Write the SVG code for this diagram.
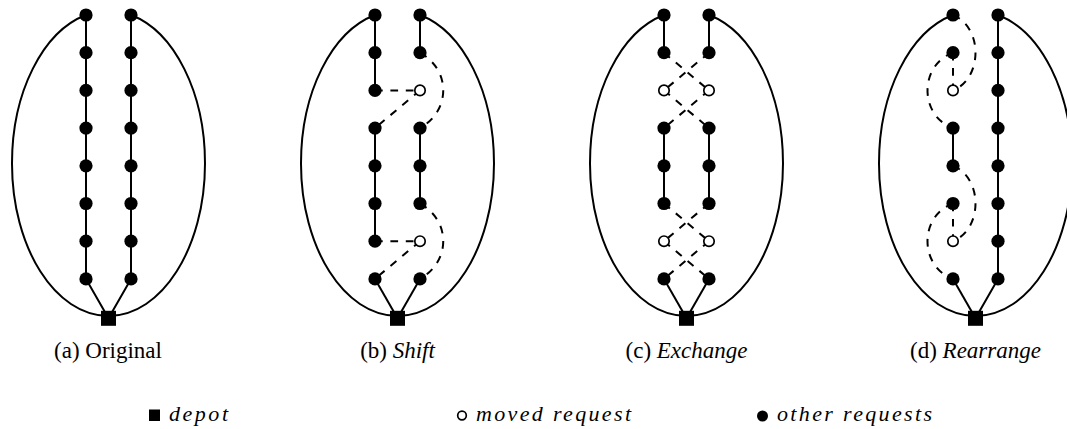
<svg xmlns="http://www.w3.org/2000/svg" width="1067" height="429" viewBox="0 0 1067 429">
  <style>
    .route { fill: none; stroke: #000; stroke-width: 2; }
    .move  { fill: none; stroke: #000; stroke-width: 2; stroke-dasharray: 7.7 7.7; }
    .req   { fill: #000; }
    .moved { fill: #fff; stroke: #000; stroke-width: 1.7; }
    .depot { fill: #000; }
    .cap   { font-family: "Liberation Serif", "Times New Roman", serif; font-size: 23px; fill: #000; }
    .it    { font-style: italic; }
    .leg   { font-family: "Liberation Serif", "Times New Roman", serif; font-size: 22px; font-style: italic; fill: #000; }
  </style>
  <defs>
    <!-- outer arcs from the first request of each route back to the depot -->
    <path id="arc-left"  d="M86,15 C42.6,31.5 12,92.8 12,163.4 C12,247.7 55.2,316 108.5,316"/>
    <path id="arc-right" d="M131,15 C174.4,31.5 205,92.8 205,163.4 C205,247.7 161.8,316 108.5,316"/>
  </defs>

  <rect width="1067" height="429" fill="#fff"/>

  <g id="connectors">
    <!-- (a) original routes -->
    <g id="edges-a">
      <use href="#arc-left" class="route"/>
      <use href="#arc-right" class="route"/>
      <path class="route" d="M86,15 V278.9 L108.5,318.3"/>
      <path class="route" d="M131,15 V278.9 L108.5,318.3"/>
    </g>
    <!-- (b) shift -->
    <g id="edges-b" transform="translate(289,0)">
      <use href="#arc-left" class="route"/>
      <use href="#arc-right" class="route"/>
      <path class="route" d="M86,15 V90.4"/>
      <path class="route" d="M86,128.1 V241.2"/>
      <path class="route" d="M86,278.9 L108.5,318.3"/>
      <path class="route" d="M131,15 V52.7"/>
      <path class="route" d="M131,128.1 V203.5"/>
      <path class="route" d="M131,278.9 L108.5,318.3"/>
      <path class="move" d="M86,90.4 H131"/>
      <path class="move" d="M131,90.4 L86,128.1"/>
      <path class="move" d="M131,52.7 C162,70 162,110.5 131,128.1"/>
      <path class="move" d="M86,241.2 H131"/>
      <path class="move" d="M131,241.2 L86,278.9"/>
      <path class="move" d="M131,203.5 C162,220.8 162,261.3 131,278.9"/>
    </g>
    <!-- (c) exchange -->
    <g id="edges-c" transform="translate(578,0)">
      <use href="#arc-left" class="route"/>
      <use href="#arc-right" class="route"/>
      <path class="route" d="M86,15 V52.7"/>
      <path class="route" d="M131,15 V52.7"/>
      <path class="route" d="M86,128.1 V203.5"/>
      <path class="route" d="M131,128.1 V203.5"/>
      <path class="route" d="M86,278.9 L108.5,318.3"/>
      <path class="route" d="M131,278.9 L108.5,318.3"/>
      <path class="move" d="M86,52.7 L131,90.4"/>
      <path class="move" d="M131,52.7 L86,90.4"/>
      <path class="move" d="M86,90.4 L131,128.1"/>
      <path class="move" d="M131,90.4 L86,128.1"/>
      <path class="move" d="M86,203.5 L131,241.2"/>
      <path class="move" d="M131,203.5 L86,241.2"/>
      <path class="move" d="M86,241.2 L131,278.9"/>
      <path class="move" d="M131,241.2 L86,278.9"/>
    </g>
    <!-- (d) rearrange -->
    <g id="edges-d" transform="translate(867,0)">
      <use href="#arc-left" class="route"/>
      <use href="#arc-right" class="route"/>
      <path class="route" d="M131,15 V278.9 L108.5,318.3"/>
      <path class="route" d="M86,128.1 V165.8"/>
      <path class="route" d="M86,278.9 L108.5,318.3"/>
      <path class="move" d="M86,15 C116,27 116,78.4 86,90.4"/>
      <path class="move" d="M86,52.7 V90.4"/>
      <path class="move" d="M86,52.7 C52,65 52,115.8 86,128.1"/>
      <path class="move" d="M86,165.8 C116,177.8 116,229.2 86,241.2"/>
      <path class="move" d="M86,203.5 V241.2"/>
      <path class="move" d="M86,203.5 C52,215.8 52,266.6 86,278.9"/>
    </g>
  </g>

  <!-- (a) nodes -->
  <g id="nodes-a">
    <g id="a-depot"><rect class="depot" x="101" y="310.8" width="15" height="15"/></g>
    <g id="a-L0"><circle class="req" cx="86" cy="15" r="6.6"/></g>
    <g id="a-L1"><circle class="req" cx="86" cy="52.7" r="6.6"/></g>
    <g id="a-L2"><circle class="req" cx="86" cy="90.4" r="6.6"/></g>
    <g id="a-L3"><circle class="req" cx="86" cy="128.1" r="6.6"/></g>
    <g id="a-L4"><circle class="req" cx="86" cy="165.8" r="6.6"/></g>
    <g id="a-L5"><circle class="req" cx="86" cy="203.5" r="6.6"/></g>
    <g id="a-L6"><circle class="req" cx="86" cy="241.2" r="6.6"/></g>
    <g id="a-L7"><circle class="req" cx="86" cy="278.9" r="6.6"/></g>
    <g id="a-R0"><circle class="req" cx="131" cy="15" r="6.6"/></g>
    <g id="a-R1"><circle class="req" cx="131" cy="52.7" r="6.6"/></g>
    <g id="a-R2"><circle class="req" cx="131" cy="90.4" r="6.6"/></g>
    <g id="a-R3"><circle class="req" cx="131" cy="128.1" r="6.6"/></g>
    <g id="a-R4"><circle class="req" cx="131" cy="165.8" r="6.6"/></g>
    <g id="a-R5"><circle class="req" cx="131" cy="203.5" r="6.6"/></g>
    <g id="a-R6"><circle class="req" cx="131" cy="241.2" r="6.6"/></g>
    <g id="a-R7"><circle class="req" cx="131" cy="278.9" r="6.6"/></g>
  </g>

  <!-- (b) nodes -->
  <g id="nodes-b" transform="translate(289,0)">
    <g id="b-depot"><rect class="depot" x="101" y="310.8" width="15" height="15"/></g>
    <g id="b-L0"><circle class="req" cx="86" cy="15" r="6.6"/></g>
    <g id="b-L1"><circle class="req" cx="86" cy="52.7" r="6.6"/></g>
    <g id="b-L2"><circle class="req" cx="86" cy="90.4" r="6.6"/></g>
    <g id="b-L3"><circle class="req" cx="86" cy="128.1" r="6.6"/></g>
    <g id="b-L4"><circle class="req" cx="86" cy="165.8" r="6.6"/></g>
    <g id="b-L5"><circle class="req" cx="86" cy="203.5" r="6.6"/></g>
    <g id="b-L6"><circle class="req" cx="86" cy="241.2" r="6.6"/></g>
    <g id="b-L7"><circle class="req" cx="86" cy="278.9" r="6.6"/></g>
    <g id="b-R0"><circle class="req" cx="131" cy="15" r="6.6"/></g>
    <g id="b-R1"><circle class="req" cx="131" cy="52.7" r="6.6"/></g>
    <g id="b-R2"><circle class="moved" cx="131" cy="90.4" r="5.2"/></g>
    <g id="b-R3"><circle class="req" cx="131" cy="128.1" r="6.6"/></g>
    <g id="b-R4"><circle class="req" cx="131" cy="165.8" r="6.6"/></g>
    <g id="b-R5"><circle class="req" cx="131" cy="203.5" r="6.6"/></g>
    <g id="b-R6"><circle class="moved" cx="131" cy="241.2" r="5.2"/></g>
    <g id="b-R7"><circle class="req" cx="131" cy="278.9" r="6.6"/></g>
  </g>

  <!-- (c) nodes -->
  <g id="nodes-c" transform="translate(578,0)">
    <g id="c-depot"><rect class="depot" x="101" y="310.8" width="15" height="15"/></g>
    <g id="c-L0"><circle class="req" cx="86" cy="15" r="6.6"/></g>
    <g id="c-L1"><circle class="req" cx="86" cy="52.7" r="6.6"/></g>
    <g id="c-L2"><circle class="moved" cx="86" cy="90.4" r="5.2"/></g>
    <g id="c-L3"><circle class="req" cx="86" cy="128.1" r="6.6"/></g>
    <g id="c-L4"><circle class="req" cx="86" cy="165.8" r="6.6"/></g>
    <g id="c-L5"><circle class="req" cx="86" cy="203.5" r="6.6"/></g>
    <g id="c-L6"><circle class="moved" cx="86" cy="241.2" r="5.2"/></g>
    <g id="c-L7"><circle class="req" cx="86" cy="278.9" r="6.6"/></g>
    <g id="c-R0"><circle class="req" cx="131" cy="15" r="6.6"/></g>
    <g id="c-R1"><circle class="req" cx="131" cy="52.7" r="6.6"/></g>
    <g id="c-R2"><circle class="moved" cx="131" cy="90.4" r="5.2"/></g>
    <g id="c-R3"><circle class="req" cx="131" cy="128.1" r="6.6"/></g>
    <g id="c-R4"><circle class="req" cx="131" cy="165.8" r="6.6"/></g>
    <g id="c-R5"><circle class="req" cx="131" cy="203.5" r="6.6"/></g>
    <g id="c-R6"><circle class="moved" cx="131" cy="241.2" r="5.2"/></g>
    <g id="c-R7"><circle class="req" cx="131" cy="278.9" r="6.6"/></g>
  </g>

  <!-- (d) nodes -->
  <g id="nodes-d" transform="translate(867,0)">
    <g id="d-depot"><rect class="depot" x="101" y="310.8" width="15" height="15"/></g>
    <g id="d-L0"><circle class="req" cx="86" cy="15" r="6.6"/></g>
    <g id="d-L1"><circle class="req" cx="86" cy="52.7" r="6.6"/></g>
    <g id="d-L2"><circle class="moved" cx="86" cy="90.4" r="5.2"/></g>
    <g id="d-L3"><circle class="req" cx="86" cy="128.1" r="6.6"/></g>
    <g id="d-L4"><circle class="req" cx="86" cy="165.8" r="6.6"/></g>
    <g id="d-L5"><circle class="req" cx="86" cy="203.5" r="6.6"/></g>
    <g id="d-L6"><circle class="moved" cx="86" cy="241.2" r="5.2"/></g>
    <g id="d-L7"><circle class="req" cx="86" cy="278.9" r="6.6"/></g>
    <g id="d-R0"><circle class="req" cx="131" cy="15" r="6.6"/></g>
    <g id="d-R1"><circle class="req" cx="131" cy="52.7" r="6.6"/></g>
    <g id="d-R2"><circle class="req" cx="131" cy="90.4" r="6.6"/></g>
    <g id="d-R3"><circle class="req" cx="131" cy="128.1" r="6.6"/></g>
    <g id="d-R4"><circle class="req" cx="131" cy="165.8" r="6.6"/></g>
    <g id="d-R5"><circle class="req" cx="131" cy="203.5" r="6.6"/></g>
    <g id="d-R6"><circle class="req" cx="131" cy="241.2" r="6.6"/></g>
    <g id="d-R7"><circle class="req" cx="131" cy="278.9" r="6.6"/></g>
  </g>

  <!-- sub-figure captions -->
  <g id="captions">
    <text class="cap" x="108" y="358" text-anchor="middle">(a) Original</text>
    <text class="cap" x="397.5" y="358" text-anchor="middle">(b) <tspan class="it">Shift</tspan></text>
    <text class="cap" x="686.5" y="358" text-anchor="middle">(c) <tspan class="it">Exchange</tspan></text>
    <text class="cap" x="975.5" y="358" text-anchor="middle">(d) <tspan class="it">Rearrange</tspan></text>
  </g>

  <!-- legend -->
  <g id="legend">
    <rect class="depot" x="149" y="409.5" width="11" height="11.5"/>
    <text class="leg" x="169" y="421" textLength="59" lengthAdjust="spacing">depot</text>
    <circle class="moved" cx="462" cy="415.5" r="4.3" stroke-width="1.5"/>
    <text class="leg" x="476" y="421" textLength="155" lengthAdjust="spacing">moved request</text>
    <circle class="req" cx="762.5" cy="416" r="5.5"/>
    <text class="leg" x="777" y="421" textLength="155" lengthAdjust="spacing">other requests</text>
  </g>
</svg>
